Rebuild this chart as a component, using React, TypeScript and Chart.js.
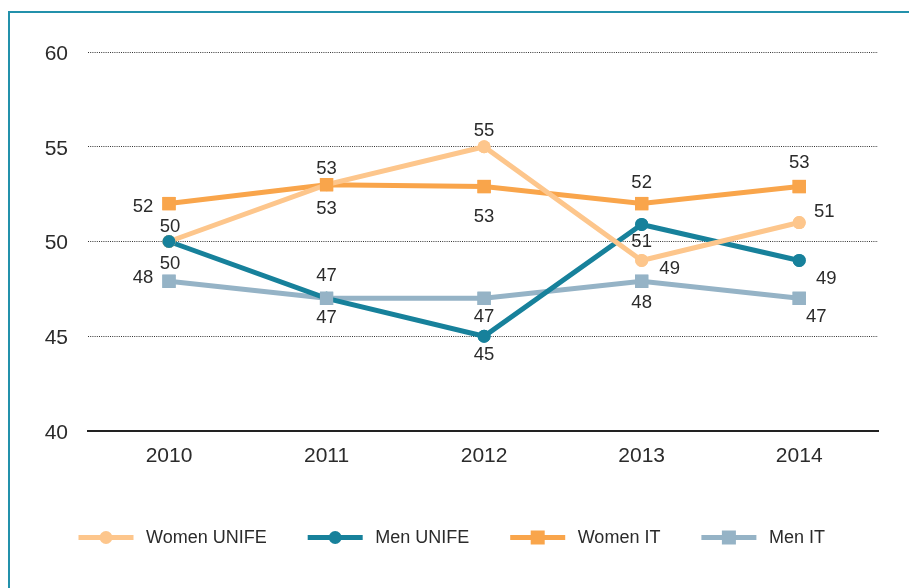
import React, { useEffect, useRef } from "react";
import { Chart, registerables } from "chart.js";

Chart.register(...registerables);

const years = ["2010", "2011", "2012", "2013", "2014"];
const seriesNames = ["Women UNIFE", "Men UNIFE", "Women IT", "Men IT"];
const womenUnife = [50, 53, 55, 49, 51];
const menUnife = [50, 47, 45, 50.9, 49];
const womenIT = [52, 53, 52.9, 52, 52.9];
const menIT = [47.9, 47, 47, 47.9, 47];
const yTicks = [40, 45, 50, 55, 60];

const FONT = '"Liberation Sans", Arial, Helvetica, sans-serif';
const TEXT = "#2b2b2b";

const colors = ["#fdc68c", "#17819b", "#f9a54b", "#95b3c6"];
const styles = ["circle", "circle", "rect", "rect"];
const radii = [6.5, 6.5, 9.4, 9.4];

// label offsets (dx, dy) from each point, per series
const labelOffsets = [
  [[1, 22], [0, 24], [0, -16], [28, 8], [25, -11]],
  [[1, -15], [0, 20], [0, 19], [0, 17], [27, 18]],
  [[-26, 3], [0, -16], [0, 30], [0, -21], [0, -24]],
  [[-26, -3], [0, -22], [0, 19], [0, 22], [17, 19]],
];

// markers drawn over all lines, then value labels
const pointsOnTop = {
  id: "pointsOnTop",
  afterDatasetsDraw(chart: any) {
    const ctx = chart.ctx;
    for (let i = 0; i < chart.data.datasets.length; i++) {
      const meta = chart.getDatasetMeta(i);
      meta.data.forEach((pt: any) => pt.draw(ctx, chart.chartArea));
    }
    ctx.save();
    ctx.font = `18.5px ${FONT}`;
    ctx.fillStyle = TEXT;
    ctx.textAlign = "center";
    ctx.textBaseline = "middle";
    chart.data.datasets.forEach((ds: any, i: number) => {
      const meta = chart.getDatasetMeta(i);
      meta.data.forEach((pt: any, j: number) => {
        const off = labelOffsets[i][j];
        const v = ds.data[j].y;
        ctx.fillText(String(Math.round(v)), pt.x + off[0], pt.y + off[1]);
      });
    });
    ctx.restore();
  },
};

const customLegend = {
  id: "customLegend",
  afterDraw(chart: any) {
    const ctx = chart.ctx;
    ctx.save();
    ctx.font = `18px ${FONT}`;
    const lineLen = 55;
    const gapText = 12.5;
    const gapItem = 41;
    let x = 78.5;
    const y = 537.5;
    chart.data.datasets.forEach((ds: any, i: number) => {
      const tw = ctx.measureText(ds.label).width;
      ctx.strokeStyle = ds.borderColor;
      ctx.lineWidth = 5;
      ctx.lineCap = "butt";
      ctx.beginPath();
      ctx.moveTo(x, y);
      ctx.lineTo(x + lineLen, y);
      ctx.stroke();
      ctx.fillStyle = ds.borderColor;
      const cx = x + lineLen / 2;
      if (styles[i] === "circle") {
        ctx.beginPath();
        ctx.arc(cx, y, 6.5, 0, Math.PI * 2);
        ctx.fill();
      } else {
        ctx.fillRect(cx - 7, y - 7, 14, 14);
      }
      ctx.fillStyle = TEXT;
      ctx.textAlign = "left";
      ctx.textBaseline = "middle";
      ctx.fillText(ds.label, x + lineLen + gapText, y + 1);
      x += lineLen + gapText + tw + gapItem;
    });
    ctx.restore();
  },
};

export default function App() {
  const ref = useRef<HTMLCanvasElement | null>(null);

  useEffect(() => {
    if (!ref.current) return;
    const series = [womenUnife, menUnife, womenIT, menIT];
    const chart = new Chart(ref.current, {
      type: "line",
      data: {
        datasets: series.map((arr, i) => ({
          label: seriesNames[i],
          data: arr.map((v, j) => ({ x: j, y: v })),
          borderColor: colors[i],
          backgroundColor: colors[i],
          pointBackgroundColor: colors[i],
          pointBorderWidth: 0,
          pointStyle: styles[i] as any,
          pointRadius: radii[i],
          borderWidth: 5,
          tension: 0,
          fill: false,
        })),
      },
      options: {
        responsive: false,
        animation: false,
        devicePixelRatio: 1,
        layout: { padding: { left: 0, top: 52, right: 31, bottom: 97 } },
        plugins: {
          legend: { display: false },
          tooltip: { enabled: false },
        },
        scales: {
          x: {
            type: "linear",
            min: -0.514,
            max: 4.5,
            afterBuildTicks: (s: any) => {
              s.ticks = years.map((_, i) => ({ value: i }));
            },
            afterFit: (s: any) => {
              s.height = 60;
            },
            ticks: {
              autoSkip: false,
              maxRotation: 0,
              padding: 13,
              color: TEXT,
              font: { size: 21, family: FONT },
              callback: (v: any) => years[v] ?? "",
            },
            grid: { display: false, drawTicks: false },
            border: { display: true, color: "#222", width: 2 },
          },
          y: {
            type: "linear",
            min: 40,
            max: 60,
            afterBuildTicks: (s: any) => {
              s.ticks = yTicks.map((v) => ({ value: v }));
            },
            afterFit: (s: any) => {
              s.width = 88;
            },
            ticks: {
              padding: 20,
              labelOffset: 2,
              color: TEXT,
              font: { size: 21, family: FONT },
            },
            grid: {
              drawTicks: false,
              lineWidth: 1,
              color: (c: any) => (c.tick && c.tick.value === 40 ? "rgba(0,0,0,0)" : "#333"),
            },
            border: { display: false, dash: [1, 1.2] },
          },
        },
      },
      plugins: [pointsOnTop, customLegend],
    });
    return () => chart.destroy();
  }, []);

  return (
    <>
      <div
        style={{
          position: "fixed",
          left: 8,
          top: 11,
          width: 901,
          height: 577,
          borderTop: "2px solid #2391ab",
          borderLeft: "2px solid #2391ab",
          boxSizing: "border-box",
        }}
      />
      <canvas
        ref={ref}
        width={909}
        height={588}
        style={{ position: "fixed", left: 0, top: 0, width: 909, height: 588, display: "block" }}
      />
    </>
  );
}
